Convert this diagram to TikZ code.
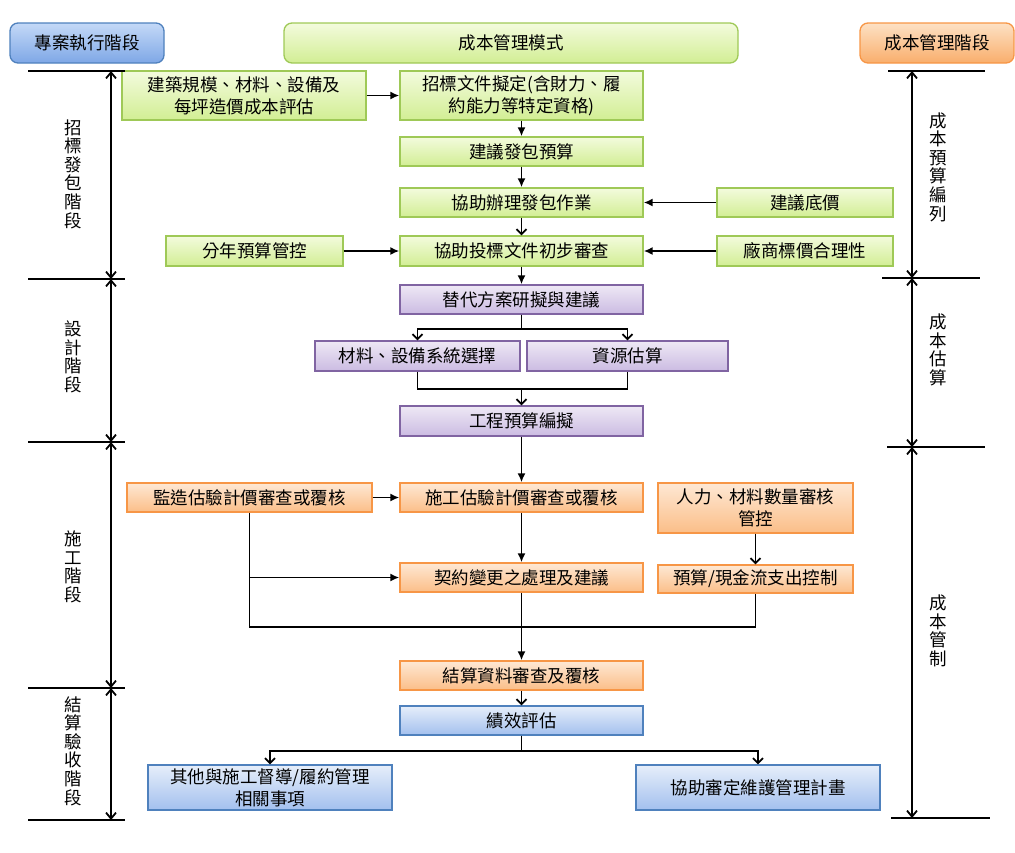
\documentclass[tikz,border=0pt]{standalone}
\usepackage{fontspec}
\setmainfont{Noto Sans CJK TC}
\usetikzlibrary{arrows.meta}
\definecolor{gB}{HTML}{9FC957}
\definecolor{gT}{HTML}{F3FBDD}
\definecolor{gM}{HTML}{D2EE94}
\definecolor{pB}{HTML}{8064A2}
\definecolor{pT}{HTML}{EEE8F5}
\definecolor{pM}{HTML}{CBBBE2}
\definecolor{oB}{HTML}{F79646}
\definecolor{oT}{HTML}{FEE8D4}
\definecolor{oM}{HTML}{FBBE88}
\definecolor{bB}{HTML}{4F81BD}
\definecolor{bT}{HTML}{E6EEFA}
\definecolor{bM}{HTML}{A3C0EE}
\definecolor{hbT}{HTML}{C4D9F7}
\definecolor{hbM}{HTML}{7EA7E6}
\definecolor{hoT}{HTML}{FDE1C4}
\definecolor{hoM}{HTML}{F9AE6C}
\tikzset{
  x=1pt, y=-1pt,
  box/.style={draw, line width=1.3pt, inner sep=0pt, align=center,
    font=\fontsize{17.5}{22}\selectfont},
  gbox/.style={box, draw=gB, top color=gT, bottom color=gM},
  pbox/.style={box, draw=pB, top color=pT, bottom color=pM},
  obox/.style={box, draw=oB, top color=oT, bottom color=oM},
  bbox/.style={box, draw=bB, top color=bT, bottom color=bM},
  hdr/.style={box, rounded corners=8pt, minimum width=154pt, minimum height=40pt},
  farr/.style={line width=1.8pt, -{Latex[length=9pt,width=8pt]}},
  varr/.style={line width=1.8pt, -{Straight Barb[length=5pt,width=10pt]}},
  plain/.style={line width=1.8pt},
  stageline/.style={line width=2.8pt},
  sarr/.style={line width=1.8pt, {Straight Barb[length=6pt,width=10pt]}-{Straight Barb[length=6pt,width=10pt]}},
  vlab/.style={align=center, font=\fontsize{17.5}{18.6}\selectfont, inner sep=0pt}
}
\begin{document}
\begin{tikzpicture}
\useasboundingbox (0,0) rectangle (1015,852);
% headers
\node[hdr, draw=bB, top color=hbT, bottom color=hbM] (h1) at (87,43) {專案執行階段};
\node[hdr, draw=gB, top color=gT, bottom color=gM, minimum width=454pt] (h2) at (511,43) {成本管理模式};
\node[hdr, draw=oB, top color=hoT, bottom color=hoM] (h3) at (937,43) {成本管理階段};
% green
\node[gbox, minimum width=244pt, minimum height=49pt] (n1) at (244,95.5) {建築規模、材料、設備及\\每坪造價成本評估};
\node[gbox, minimum width=243pt, minimum height=49pt] (n2) at (521.5,95.5) {招標文件擬定(含財力、履\\約能力等特定資格)};
\node[gbox, minimum width=243pt, minimum height=29pt] (n3) at (521.5,151.5) {建議發包預算};
\node[gbox, minimum width=243pt, minimum height=29pt] (n4) at (521.5,202.5) {協助辦理發包作業};
\node[gbox, minimum width=176pt, minimum height=29pt] (n5) at (805,202.5) {建議底價};
\node[gbox, minimum width=177pt, minimum height=30pt] (n6) at (254.5,251) {分年預算管控};
\node[gbox, minimum width=243pt, minimum height=30pt] (n7) at (521.5,251) {協助投標文件初步審查};
\node[gbox, minimum width=176pt, minimum height=30pt] (n8) at (805,251) {廠商標價合理性};
% purple
\node[pbox, minimum width=243pt, minimum height=29pt] (p1) at (521.5,299.5) {替代方案研擬與建議};
\node[pbox, minimum width=205pt, minimum height=30pt] (p2) at (417.5,356) {材料、設備系統選擇};
\node[pbox, minimum width=201pt, minimum height=30pt] (p3) at (627.5,356) {資源估算};
\node[pbox, minimum width=243pt, minimum height=30pt] (p4) at (521.5,421) {工程預算編擬};
% orange
\node[obox, minimum width=245pt, minimum height=29pt] (o1) at (249.5,497.5) {監造估驗計價審查或覆核};
\node[obox, minimum width=243pt, minimum height=29pt] (o2) at (521.5,497.5) {施工估驗計價審查或覆核};
\node[obox, minimum width=195pt, minimum height=50pt] (o3) at (755.5,508) {人力、材料數量審核\\管控};
\node[obox, minimum width=243pt, minimum height=29pt] (o4) at (521.5,577.5) {契約變更之處理及建議};
\node[obox, minimum width=195pt, minimum height=28pt] (o5) at (755.5,579) {預算/現金流支出控制};
\node[obox, minimum width=243pt, minimum height=29pt] (o6) at (521.5,675.5) {結算資料審查及覆核};
% blue
\node[bbox, minimum width=243pt, minimum height=29pt] (b1) at (521.5,720.5) {績效評估};
\node[bbox, minimum width=244pt, minimum height=45pt] (b2) at (270,787.5) {其他與施工督導/履約管理\\相關事項};
\node[bbox, minimum width=244pt, minimum height=45pt] (b3) at (758,787.5) {協助審定維護管理計畫};
% connectors - bidding
\draw[farr] (n1) -- (n2);
\draw[farr] (n2) -- (n3);
\draw[farr] (n3) -- (n4);
\draw[varr] (n4) -- (n7);
\draw[farr] (n5) -- (n4);
\draw[farr] (n6) -- (n7);
\draw[farr] (n8) -- (n7);
\draw[farr] (n7) -- (p1);
% design
\draw[varr] (p1.south) -- ++(0,14) -| (p2.north);
\draw[varr] (p1.south) -- ++(0,14) -| (p3.north);
\coordinate (m) at (521.5,389);
\draw[plain] (p2.south) |- (m) -| (p3.south);
\draw[varr] (m) -- (p4.north);
% construction
\draw[farr] (p4) -- (o2);
\draw[farr] (o1) -- (o2);
\draw[farr] (o2) -- (o4);
\draw[varr] (o3) -- (o5);
\coordinate (j) at (521.5,627);
\draw[plain] (o1.south) |- (j) -| (o5.south);
\draw[farr] (o1.south |- o4.west) -- (o4.west);
\draw[farr] (o4) -- (o6);
\draw[varr] (o6) -- (b1);
% settlement
\draw[varr] (b1.south) -- ++(0,15) -| (b2.north);
\draw[varr] (b1.south) -- ++(0,15) -| (b3.north);
% left stage scale
\draw[stageline] (28,71) -- (125,71);
\draw[stageline] (28,279) -- (125,279);
\draw[stageline] (28,442) -- (125,442);
\draw[stageline] (28,688) -- (125,688);
\draw[stageline] (28,820) -- (125,820);
\draw[sarr] (111,71) -- (111,279);
\draw[sarr] (111,279) -- (111,442);
\draw[sarr] (111,442) -- (111,688);
\draw[sarr] (111,688) -- (111,820);
\node[vlab] (l1) at (73,174) {招\\標\\發\\包\\階\\段};
\node[vlab] (l2) at (73,357) {設\\計\\階\\段};
\node[vlab] (l3) at (73,567) {施\\工\\階\\段};
\node[vlab] (l4) at (73,751) {結\\算\\驗\\收\\階\\段};
% right stage scale
\draw[stageline] (888,71) -- (985,71);
\draw[stageline] (882,278) -- (980,278);
\draw[stageline] (887,447) -- (985,447);
\draw[stageline] (891,818) -- (990,818);
\draw[sarr] (912,71) -- (912,278);
\draw[sarr] (912,278) -- (912,447);
\draw[sarr] (912,447) -- (912,818);
\node[vlab] (r1) at (938,167) {成\\本\\預\\算\\編\\列};
\node[vlab] (r2) at (938,350) {成\\本\\估\\算};
\node[vlab] (r3) at (938,631) {成\\本\\管\\制};
\end{tikzpicture}
\end{document}
